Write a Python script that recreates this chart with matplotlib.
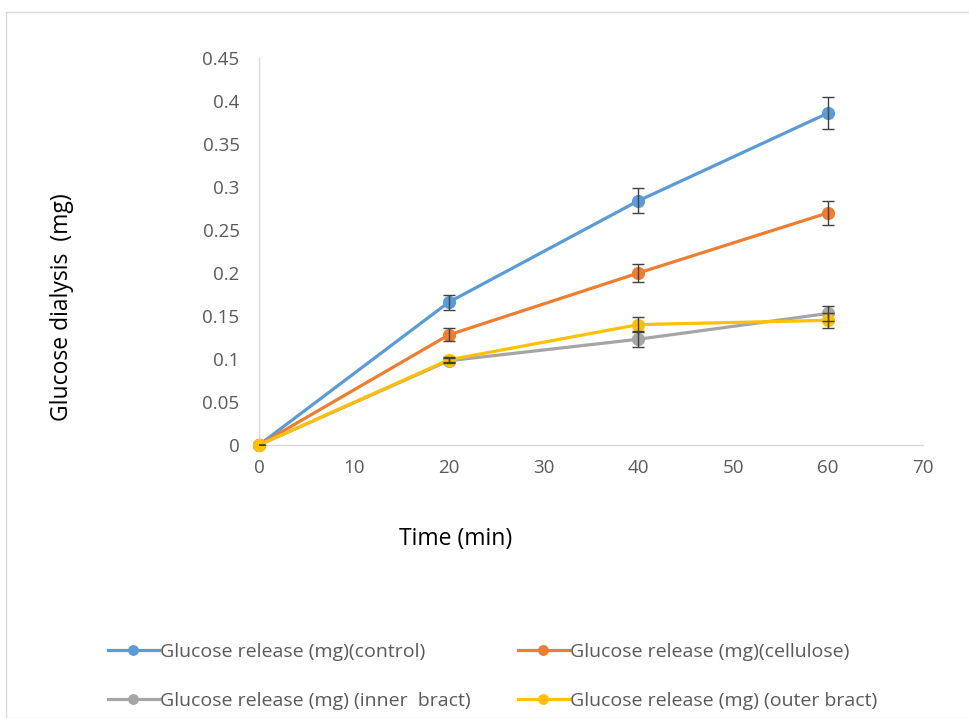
import matplotlib
matplotlib.use("Agg")
import matplotlib.pyplot as plt
from matplotlib.patches import Rectangle

plt.rcParams['font.family'] = ['Open Sans', 'DejaVu Sans']

time_min = [0, 20, 40, 60]

control = [0, 0.166, 0.284, 0.386]
control_err = [0, 0.009, 0.0145, 0.019]
cellulose = [0, 0.128, 0.200, 0.270]
cellulose_err = [0, 0.0075, 0.011, 0.014]
inner_bract = [0, 0.098, 0.123, 0.153]
inner_bract_err = [0, 0.003, 0.009, 0.009]
outer_bract = [0, 0.099, 0.140, 0.145]
outer_bract_err = [0, 0.003, 0.009, 0.009]

series_labels = [
    "Glucose release (mg)(control)",
    "Glucose release (mg)(cellulose)",
    "Glucose release (mg) (inner  bract)",
    "Glucose release (mg) (outer bract)",
]
series_colors = ["#5B9BD5", "#ED7D31", "#A5A5A5", "#FFC000"]

x_ticks = [0, 10, 20, 30, 40, 50, 60, 70]
y_ticks = [0, 0.05, 0.1, 0.15, 0.2, 0.25, 0.3, 0.35, 0.4, 0.45]
y_tick_labels = ["0", "0.05", "0.1", "0.15", "0.2", "0.25", "0.3", "0.35", "0.4", "0.45"]

W, H = 969, 718
fig = plt.figure(figsize=(W / 100, H / 100), dpi=100)

# chart area frame
fig.patches.append(Rectangle((6 / W, 0), 1, 1 - 12 / H, transform=fig.transFigure,
                             fill=False, edgecolor="#D9D9D9", linewidth=1.0))

ax = fig.add_axes([259 / W, 1 - 445 / H, (923 - 259) / W, (445 - 58) / H])

values = [control, cellulose, inner_bract, outer_bract]
errors = [control_err, cellulose_err, inner_bract_err, outer_bract_err]
handles = []
for vals, errs, col, lab in zip(values, errors, series_colors, series_labels):
    line, = ax.plot(time_min, vals, color=col, linewidth=2.3, marker="o",
                    markersize=8.5, label=lab, zorder=3, clip_on=False)
    ax.errorbar(time_min, vals, yerr=errs, fmt="none", ecolor="#404040",
                elinewidth=1.0, capsize=4, capthick=1.0, zorder=4)
    handles.append(line)

ax.set_xlim(0, 70)
ax.set_ylim(0, 0.45)
ax.set_xticks(x_ticks)
ax.set_yticks(y_ticks)
ax.set_yticklabels(y_tick_labels)
ax.tick_params(length=0, labelsize=13.5, labelcolor="#595959")
ax.tick_params(axis="y", pad=14)
ax.tick_params(axis="x", pad=10)
for s in ["top", "right"]:
    ax.spines[s].set_visible(False)
for s in ["left", "bottom"]:
    ax.spines[s].set_color("#D9D9D9")
    ax.spines[s].set_linewidth(1.0)

fig.text(62 / W, 1 - 307 / H, "Glucose dialysis  (mg)", rotation=90,
         ha="center", va="center", fontsize=16.5, color="black")
fig.text(456 / W, 1 - 539 / H, "Time (min)", ha="center", va="center",
         fontsize=16.5, color="black")

leg_kw = dict(frameon=False, fontsize=14, labelcolor="#595959",
              handlelength=2.6, handletextpad=0.1, labelspacing=1.6,
              borderpad=0, borderaxespad=0, markerscale=0.8)
leg1 = fig.legend([handles[0], handles[2]], [series_labels[0], series_labels[2]],
                  loc="upper left", bbox_to_anchor=(108 / W, 1 - 643 / H), **leg_kw)
leg2 = fig.legend([handles[1], handles[3]], [series_labels[1], series_labels[3]],
                  loc="upper left", bbox_to_anchor=(518 / W, 1 - 643 / H), **leg_kw)

fig.savefig("out.png", dpi=100, facecolor="white")
